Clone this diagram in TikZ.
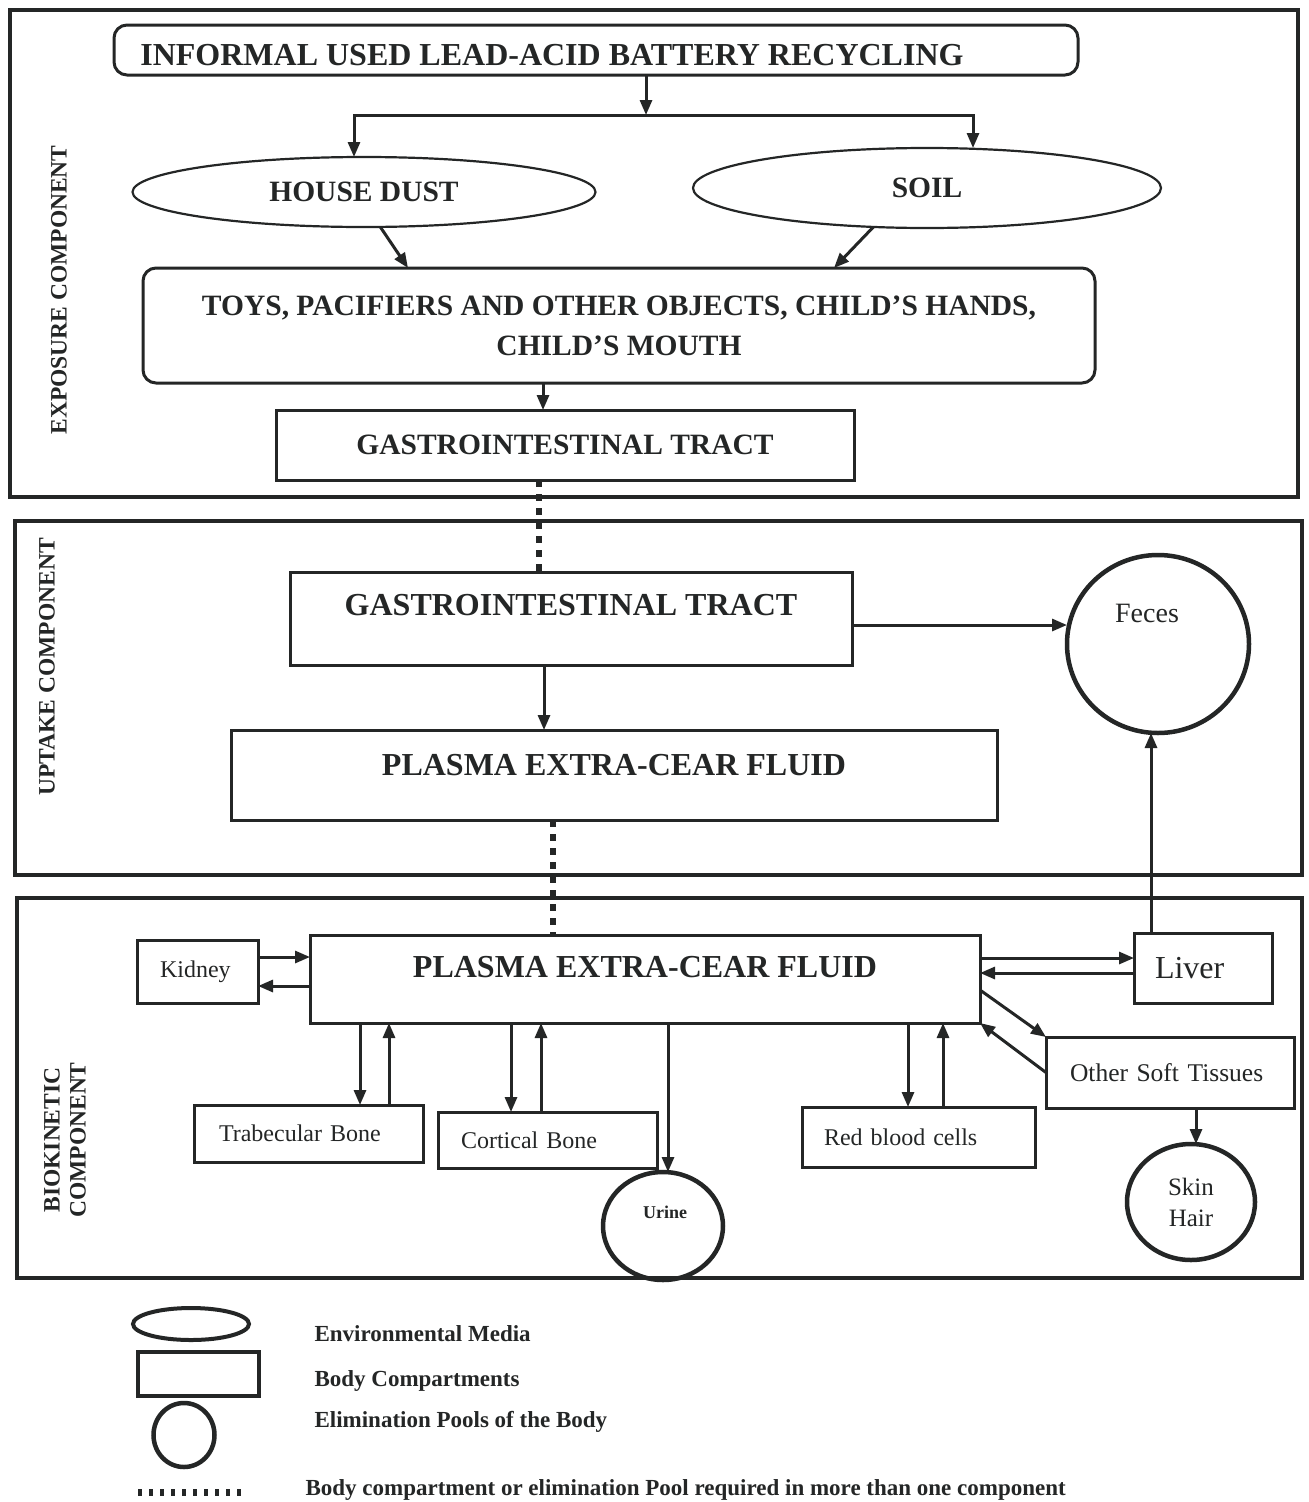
\documentclass[tikz,border=0pt]{standalone}
\usepackage{fontspec}
\setmainfont{Liberation Serif}
\usepackage{tikz}
\definecolor{InkGray}{rgb}{0.14,0.15,0.15}
\usetikzlibrary{
	positioning,
	calc,
	arrows.meta,
	shapes.geometric
}

\begin{document}
\begin{tikzpicture}[
		x=1pt, y=-1pt,
		color=InkGray,
		panel/.style={draw, line width=4pt},
		compart/.style={draw, line width=3pt, rectangle, inner sep=0pt, outer sep=0pt, anchor=north west},
		roundbox/.style={compart, rounded corners=13pt},
		media/.style={draw, line width=2.2pt, ellipse, inner sep=0pt, outer sep=0pt},
		pool/.style={draw, line width=4.5pt, ellipse, inner sep=0pt, outer sep=0pt},
		organ/.style={compart, align=left, inner xsep=23pt, font={\fontsize{24}{28}\selectfont}},
		flow/.style={-{Triangle[length=15pt, width=12pt]}, line width=3pt},
		linked/.style={line width=6pt, dash pattern=on 7pt off 7pt},
		capsbig/.style={font={\fontsize{32}{38}\selectfont\bfseries}},
		capsmid/.style={font={\fontsize{29.5}{40}\selectfont\bfseries}, align=center},
		sidelabel/.style={font={\fontsize{23.5}{26}\selectfont\bfseries}, rotate=90, align=center},
		keytext/.style={font={\fontsize{23}{27}\selectfont\bfseries}, anchor=base west}
	]
	\path[use as bounding box, fill=white] (0,0) rectangle (1309,1502);

	% the three components
	\draw[panel] (10,10) rectangle (1298,497);
	\draw[panel] (15,521) rectangle (1302,875);
	\draw[panel] (17,898) rectangle (1302,1278);
	\node[sidelabel] (exposurelbl) at (59,290) {EXPOSURE COMPONENT};
	\node[sidelabel] (uptakelbl) at (47,667) {UPTAKE COMPONENT};
	\node[sidelabel] (biolbl) at (65,1140) {BIOKINETIC\\COMPONENT};

	% exposure
	\node[roundbox, minimum width=964pt, minimum height=50pt] (source) at (114,25) {};
	\node[capsbig, anchor=base] (sourcetxt) at (552,65) {INFORMAL USED LEAD-ACID BATTERY RECYCLING};
	\coordinate (fork) at (646,115);
	\node[media, capsmid, minimum width=463pt, minimum height=70pt] (dust) at (364,192) {HOUSE DUST};
	\node[media, capsmid, minimum width=468pt, minimum height=80pt] (soil) at (927,188) {SOIL};
	\node[roundbox, capsmid, minimum width=952pt, minimum height=115pt] (objects) at (143,268) {TOYS, PACIFIERS AND OTHER OBJECTS, CHILD'S HANDS,\\CHILD'S MOUTH};
	\node[compart, capsmid, minimum width=578pt, minimum height=70pt] (giExp) at (276,410) {GASTROINTESTINAL TRACT};

	\draw[flow] (fork |- source.south) -- (fork);
	\draw[flow] (fork) -| ([xshift=-10pt]dust.north);
	\draw[flow] (fork) -| ([xshift=46pt]soil.north);
	\draw[flow] (dust.-65) -- ([xshift=-211pt]objects.north);
	\draw[flow] (soil.216) -- ([xshift=215pt]objects.north);
	\draw[flow] ([xshift=-76pt]objects.south) -- ([xshift=-76pt]objects.south |- giExp.north);

	% uptake
	\node[compart, minimum width=562pt, minimum height=93pt] (giUpt) at (290,572) {};
	\node[capsbig, anchor=base] (giUpttxt) at (571,615) {GASTROINTESTINAL TRACT};
	\node[compart, minimum width=766pt, minimum height=90pt] (plasmaUpt) at (231,730) {};
	\node[capsbig, anchor=base] (plasmaUpttxt) at (614,775) {PLASMA EXTRA-CEAR FLUID};
	\node[pool, minimum width=182pt, minimum height=178pt] (feces) at (1158,644) {};
	\node[font={\fontsize{28}{32}\selectfont}, anchor=base] (fecestxt) at (1147,622) {Feces};

	\draw[linked] ([xshift=-26pt]giExp.south) -- ([xshift=-26pt]giExp.south |- giUpt.north);
	\draw[flow] ([xshift=-27pt]giUpt.south) -- ([xshift=-27pt]giUpt.south |- plasmaUpt.north);
	\draw[flow] ([yshift=-6.5pt]giUpt.east) -- ([yshift=-6.5pt]giUpt.east -| feces.west);

	% biokinetic
	\node[compart, minimum width=670pt, minimum height=88pt] (plasmaBio) at (310,935) {};
	\node[capsbig, anchor=base] (plasmaBiotxt) at (645,977) {PLASMA EXTRA-CEAR FLUID};
	\node[organ, text width=75pt, minimum height=63pt] (kidney) at (137,940) {Kidney};
	\node[organ, text width=96pt, inner xsep=21pt, minimum height=70pt, font={\fontsize{32}{36}\selectfont}] (liver) at (1134,933) {Liver};
	\node[organ, text width=200pt, inner xsep=24pt, minimum height=71pt, font={\fontsize{25.5}{30}\selectfont}] (tissues) at (1046,1037) {Other Soft Tissues};
	\node[organ, text width=179pt, inner xsep=25pt, minimum height=57pt] (trabecular) at (194,1105) {Trabecular Bone};
	\node[organ, text width=173pt, minimum height=56pt] (cortical) at (438,1112) {Cortical Bone};
	\node[organ, text width=189pt, inner xsep=22pt, minimum height=60pt] (redcells) at (802,1107) {Red blood cells};
	\node[pool, minimum width=120pt, minimum height=108pt] (urine) at (663,1226) {};
	\node[font={\fontsize{18}{22}\selectfont\bfseries}, anchor=base] (urinetxt) at (665,1218) {Urine};
	\node[pool, minimum width=128pt, minimum height=116pt, align=center, font={\fontsize{25}{31}\selectfont}] (skin) at (1191,1202) {Skin\\Hair};

	\draw[linked] ([xshift=-61pt]plasmaUpt.south) -- ([xshift=-61pt]plasmaUpt.south |- plasmaBio.north);
	\draw[flow] ([yshift=14.5pt]kidney.east) -- ([yshift=14.5pt]kidney.east -| plasmaBio.west);
	\draw[flow] ([yshift=-14.5pt]kidney.east -| plasmaBio.west) -- ([yshift=-14.5pt]kidney.east);
	\draw[flow] ([yshift=10pt]liver.west -| plasmaBio.east) -- ([yshift=10pt]liver.west);
	\draw[flow] ([yshift=-5pt]liver.west) -- ([yshift=-5pt]liver.west -| plasmaBio.east);
	\draw[flow] ([xshift=-52pt]liver.north) -- ([xshift=-52pt]liver.north |- feces.south);
	\draw[flow] ([yshift=-11pt]plasmaBio.east) -- (tissues.north west);
	\draw[flow] (tissues.west) -- (plasmaBio.south east);
	\draw[flow] ([xshift=26pt]tissues.south) -- ([xshift=26pt]tissues.south |- skin.north);
	\draw[flow] ([xshift=51.5pt]trabecular.north |- plasmaBio.south) -- ([xshift=51.5pt]trabecular.north);
	\draw[flow] ([xshift=80.5pt]trabecular.north) -- ([xshift=80.5pt]trabecular.north |- plasmaBio.south);
	\draw[flow] ([xshift=-36.5pt]cortical.north |- plasmaBio.south) -- ([xshift=-36.5pt]cortical.north);
	\draw[flow] ([xshift=-6.5pt]cortical.north) -- ([xshift=-6.5pt]cortical.north |- plasmaBio.south);
	\draw[flow] ([xshift=5pt]urine.north |- plasmaBio.south) -- ([xshift=5pt]urine.north);
	\draw[flow] ([xshift=-10.5pt]redcells.north |- plasmaBio.south) -- ([xshift=-10.5pt]redcells.north);
	\draw[flow] ([xshift=24.5pt]redcells.north) -- ([xshift=24.5pt]redcells.north |- plasmaBio.south);

	% key
	\node[media, line width=4pt, minimum width=116pt, minimum height=32pt] (keymedia) at (191,1324) {};
	\node[compart, line width=4pt, minimum width=121pt, minimum height=44pt] (keycompart) at (138,1352) {};
	\node[pool, minimum width=61pt, minimum height=64pt] (keypool) at (184,1435) {};
	\coordinate (keylinkA) at (138,1492);
	\coordinate (keylinkB) at (246,1492);
	\draw[linked, line width=7pt, dash pattern=on 4pt off 7pt] (keylinkA) -- (keylinkB);
	\node[keytext] (keymediatxt) at (311,1341) {Environmental Media};
	\node[keytext] (keycomparttxt) at (311,1386) {Body Compartments};
	\node[keytext] (keypooltxt) at (311,1427) {Elimination Pools of the Body};
	\node[keytext] (keylinktxt) at (302,1495) {Body compartment or elimination Pool required in more than one component};
\end{tikzpicture}
\end{document}
